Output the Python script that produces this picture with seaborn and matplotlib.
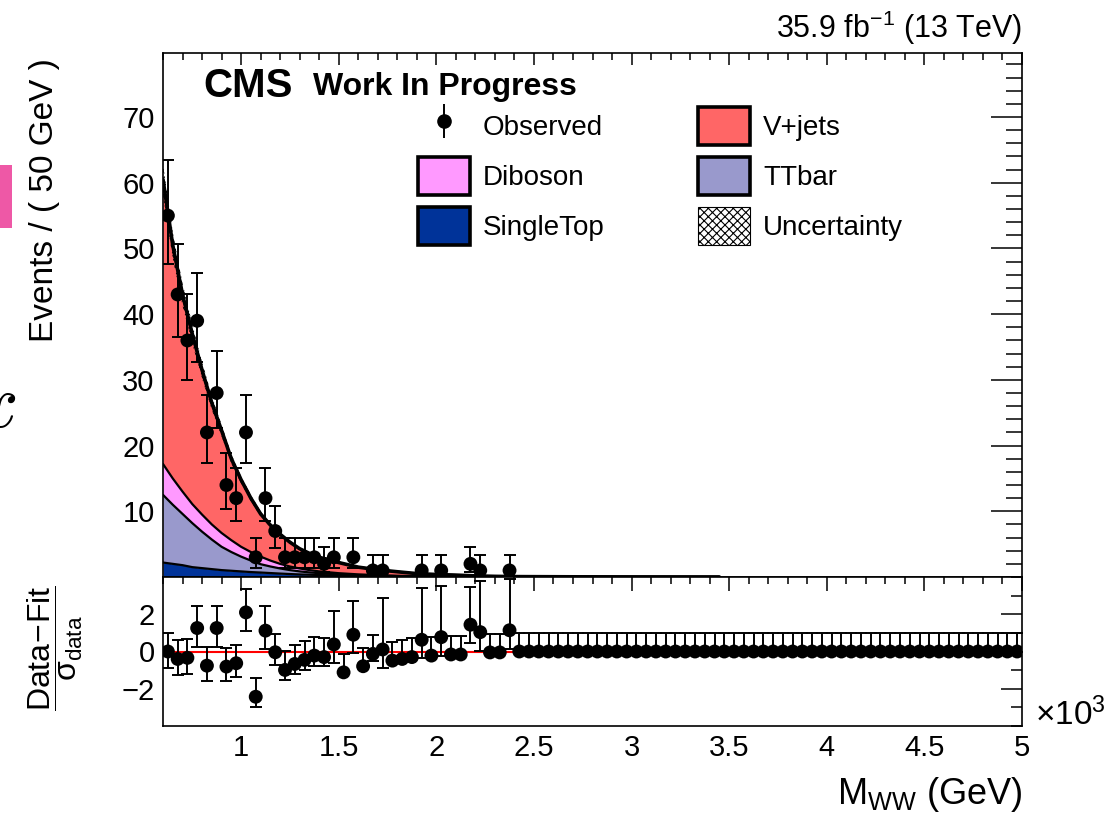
import numpy as np
import matplotlib
matplotlib.use("Agg")
import matplotlib.pyplot as plt
from matplotlib.patches import Patch, Rectangle
from matplotlib.lines import Line2D
from matplotlib.legend_handler import HandlerTuple
from matplotlib.ticker import MultipleLocator, FixedLocator, FuncFormatter
import seaborn as sns

# ---------------------------------------------------------------- data
# M_WW axis in units of 10^3 GeV, 50 GeV bins from 600 to 5000 GeV
bin_low, bin_width, n_bins = 0.6, 0.05, 88

# observed event counts per bin (bins above 2.4 TeV are empty)
observed = [55, 43, 36, 39, 22, 28, 14, 12, 22, 3, 12, 7, 3, 3, 3, 3, 2, 3,
            0, 3, 0, 1, 1, 0, 0, 0, 1, 0, 1, 0, 0, 2, 1, 0, 0, 1] + [0] * 52

# (data - fit) / sigma_data per bin
pulls = [0.00, -0.40, -0.34, 1.26, -0.76, 1.26, -0.81, -0.63, 2.10, -2.43,
         1.12, -0.04, -0.99, -0.67, -0.45, -0.22, -0.30, 0.38, -1.12, 0.90,
         -0.79, -0.13, 0.11, -0.49, -0.40, -0.30, 0.63, -0.22, 0.77, -0.16,
         -0.16, 1.44, 1.04, -0.05, -0.05, 1.14] + [0.0] * 52

# fitted background shapes (events / 50 GeV)
curve_x = [0.60, 0.65, 0.70, 0.75, 0.80, 0.85, 0.90, 0.95, 1.00, 1.05,
           1.10, 1.15, 1.20, 1.25, 1.30, 1.35, 1.40, 1.50, 1.60, 1.70,
           1.80, 1.90, 2.00, 2.10, 2.20, 2.30, 2.40, 2.70, 3.00, 3.45]
singletop = [2.2, 2.0, 1.8, 1.5, 1.35, 1.2, 1.05, 0.95, 0.85, 0.75,
             0.68, 0.6, 0.52, 0.45, 0.39, 0.34, 0.3, 0.23, 0.17, 0.13,
             0.10, 0.07, 0.05, 0.035, 0.025, 0.018, 0.012, 0.005, 0.002, 0.0005]
ttbar = [10.3, 9.0, 7.8, 6.7, 5.55, 4.5, 3.55, 2.85, 2.25, 1.75,
         1.27, 1.0, 0.78, 0.6, 0.46, 0.36, 0.28, 0.17, 0.10, 0.06,
         0.03, 0.02, 0.01, 0.005, 0.005, 0.002, 0.003, 0.002, 0.001, 0.0005]
diboson = [4.7, 4.0, 3.4, 2.9, 2.6, 2.3, 2.1, 1.8, 1.5, 1.3,
           1.15, 0.9, 0.7, 0.55, 0.45, 0.35, 0.27, 0.18, 0.13, 0.09,
           0.06, 0.04, 0.03, 0.02, 0.01, 0.01, 0.005, 0.003, 0.002, 0.001]
vjets = [43.3, 35.5, 30.0, 25.9, 22.0, 18.5, 15.6, 12.4, 10.2, 8.2,
         6.5, 5.4, 4.5, 3.7, 3.0, 2.55, 2.15, 1.62, 1.1, 0.82,
         0.61, 0.39, 0.29, 0.23, 0.13, 0.07, 0.04, 0.02, 0.01, 0.003]
fit_uncertainty = 0.04  # relative width of the hatched band

components = ["SingleTop", "TTbar", "Diboson", "V+jets"]
colors = {"SingleTop": "#003399", "TTbar": "#9999CC",
          "Diboson": "#FF99FF", "V+jets": "#FF6666"}

x_ticks = [1, 1.5, 2, 2.5, 3, 3.5, 4, 4.5, 5]
y_ticks_top = [10, 20, 30, 40, 50, 60, 70]
y_ticks_pull = [-2, 0, 2]


# Poisson (Garwood-like) intervals via the Wilson-Hilferty approximation
def poisson_errors(n):
    n = np.asarray(n, float)
    m = np.maximum(n, 1.0)
    lo = np.where(n > 0, n - n * (1 - 1 / (9 * m) - 1 / (3 * np.sqrt(m))) ** 3, 0.0)
    up = (n + 1) * (1 - 1 / (9 * (n + 1)) + 1 / (3 * np.sqrt(n + 1))) ** 3 - n
    return lo, up


# ---------------------------------------------------------------- style
sns.set_theme(style="white")
plt.rcParams["font.family"] = ["Liberation Sans", "DejaVu Sans"]
plt.rcParams.update({
    "mathtext.fontset": "custom",
    "mathtext.rm": "Liberation Sans",
    "mathtext.it": "Liberation Sans:italic",
    "mathtext.bf": "Liberation Sans:bold",
    "text.color": "black",
    "axes.labelcolor": "black",
    "axes.edgecolor": "black",
    "axes.linewidth": 1.2,
    "hatch.linewidth": 0.8,
    "xtick.color": "black",
    "ytick.color": "black",
})

W, H = 1118, 815
fig = plt.figure(figsize=(W / 100, H / 100), dpi=100)
left, right = 163, 1022
ax1 = fig.add_axes([left / W, 1 - 577 / H, (right - left) / W, (577 - 53) / H])
ax2 = fig.add_axes([left / W, 1 - 726 / H, (right - left) / W, (726 - 577) / H])

centers = bin_low + bin_width * (np.arange(n_bins) + 0.5)
counts = np.array(observed, float)
pull = np.array(pulls, float)
err_lo, err_up = poisson_errors(counts)

# ---------------------------------------------------------------- stacked fit
cx = np.array(curve_x)
bottom = np.zeros_like(cx)
for name, vals in zip(components, [singletop, ttbar, diboson, vjets]):
    top = bottom + np.array(vals)
    ax1.fill_between(cx, bottom, top, color=colors[name], lw=0, zorder=1)
    ax1.plot(cx, top, color="black", lw=1.6, zorder=2)
    bottom = top
total = bottom
ax1.fill_between(cx, total * (1 - fit_uncertainty), total * (1 + fit_uncertainty),
                 facecolor="none", edgecolor="black", hatch="xxxx", lw=0, zorder=3)
sns.lineplot(x=cx, y=total, ax=ax1, color="black", lw=2.6, estimator=None,
             sort=False, zorder=4)

# ---------------------------------------------------------------- observed data
marker_area = 100
has = counts > 0
ax1.errorbar(centers[has], counts[has], yerr=[err_lo[has], err_up[has]],
             fmt="none", ecolor="black", elinewidth=1.4, capsize=4, capthick=1.4,
             zorder=5)
sns.scatterplot(x=centers[has], y=counts[has], ax=ax1, color="black",
                s=marker_area, edgecolor="none", zorder=6, legend=False)

ax1.set_xlim(0.6, 5.0)
ax1.set_ylim(0, 79.75)
ax1.yaxis.set_major_locator(FixedLocator(y_ticks_top))
ax1.yaxis.set_minor_locator(MultipleLocator(2))
ax1.xaxis.set_major_locator(FixedLocator(x_ticks))
ax1.xaxis.set_minor_locator(MultipleLocator(0.1))
ax1.tick_params(axis="both", which="both", direction="in", top=True, right=True,
                labelbottom=False, width=1.1, labelsize=21, pad=6)
ax1.tick_params(axis="y", which="major", length=22)
ax1.tick_params(axis="y", which="minor", length=11.5)
ax1.tick_params(axis="x", which="major", length=8.6)
ax1.tick_params(axis="x", which="minor", length=5)
ax1.set_xlabel("")
ax1.set_ylabel("")

# ---------------------------------------------------------------- legend
obs_handle = (Line2D([], [], ls="none", marker="|", markersize=24,
                     markeredgewidth=1.4, color="black"),
              Line2D([], [], ls="none", marker="o", markersize=9.5, color="black"))
box = lambda c: Patch(facecolor=c, edgecolor="black", linewidth=2.6)
handles = [obs_handle, box(colors["Diboson"]), box(colors["SingleTop"]),
           box(colors["V+jets"]), box(colors["TTbar"]),
           Patch(facecolor="white", edgecolor="black", hatch="xxxx", linewidth=0.8)]
labels = ["Observed", "Diboson", "SingleTop", "V+jets", "TTbar", "Uncertainty"]
ax1.legend(handles, labels, ncol=2, loc="upper left",
           bbox_to_anchor=(0.297, 0.897), frameon=False, fontsize=20,
           handlelength=1.87, handleheight=1.73, handletextpad=0.47,
           columnspacing=3.35, labelspacing=0.43, borderpad=0, borderaxespad=0,
           handler_map={tuple: HandlerTuple(ndivide=1)})

ax1.text(0.0466, 0.916, "CMS", transform=ax1.transAxes, fontsize=29,
         fontweight="bold", ha="left", va="baseline")
ax1.text(0.1746, 0.919, "Work In Progress", transform=ax1.transAxes,
         fontsize=23, fontweight="bold", ha="left", va="baseline")

# ---------------------------------------------------------------- pull panel
ax2.axhline(0, color="red", lw=1.5, zorder=1)
sig_lo = np.where(counts == 0, 0.0, np.where(pull > 0, 1.0, err_lo / err_up))
sig_up = np.where(counts == 0, 1.0, np.where(pull > 0, err_up / np.maximum(err_lo, 1e-9), 1.0))
ax2.errorbar(centers, pull, yerr=[sig_lo, sig_up], fmt="none", ecolor="black",
             elinewidth=1.4, capsize=4, capthick=1.4, zorder=2)
sns.scatterplot(x=centers, y=pull, ax=ax2, color="black", s=marker_area,
                edgecolor="none", zorder=3, legend=False)
ax2.set_xlim(0.6, 5.0)
ax2.set_ylim(-4, 4)
ax2.yaxis.set_major_locator(FixedLocator(y_ticks_pull))
ax2.yaxis.set_minor_locator(MultipleLocator(1))
ax2.xaxis.set_major_locator(FixedLocator(x_ticks))
ax2.xaxis.set_minor_locator(MultipleLocator(0.1))
ax2.xaxis.set_major_formatter(FuncFormatter(lambda v, _: f"{v:g}"))
ax2.tick_params(axis="both", which="both", direction="in", top=True, right=True,
                width=1.1, labelsize=21, pad=6)
ax2.tick_params(axis="y", which="major", length=15)
ax2.tick_params(axis="y", which="minor", length=8)
ax2.tick_params(axis="x", which="major", length=10)
ax2.tick_params(axis="x", which="minor", length=5)
ax2.set_xlabel("")
ax2.set_ylabel("")

# ---------------------------------------------------------------- figure texts
fig.text(right / W, 1 - 38 / H, r"35.9 fb$^{-1}$ (13 TeV)", fontsize=22,
         ha="right", va="baseline")
fig.text(45 / W, 1 - 58 / H, "Events / ( 50 GeV )", rotation=90, fontsize=24,
         ha="center", va="top")
fig.text(55 / W, 1 - 648 / H,
         r"$\dfrac{\mathrm{Data}\!-\!\mathrm{Fit}}{\mathrm{σ}_{\mathrm{data}}}$",
         rotation=90, fontsize=23, ha="center", va="center")
fig.text(1035 / W, 1 - 715 / H, "×10$^{3}$", fontsize=24, ha="left", va="center")
fig.text(right / W, 1 - 795 / H, r"M$_{\mathrm{WW}}$ (GeV)", fontsize=26,
         ha="right", va="center")

# side strip at the left edge
fig.patches.append(Rectangle((0, 1 - 228 / H), 12 / W, 63 / H,
                             transform=fig.transFigure, color="#EE58A6", lw=0))
fig.text(-5 / W, 1 - 408 / H, r"$x$", fontsize=55, math_fontfamily="cm",
         ha="center", va="center")

fig.savefig("out.png", dpi=100)
